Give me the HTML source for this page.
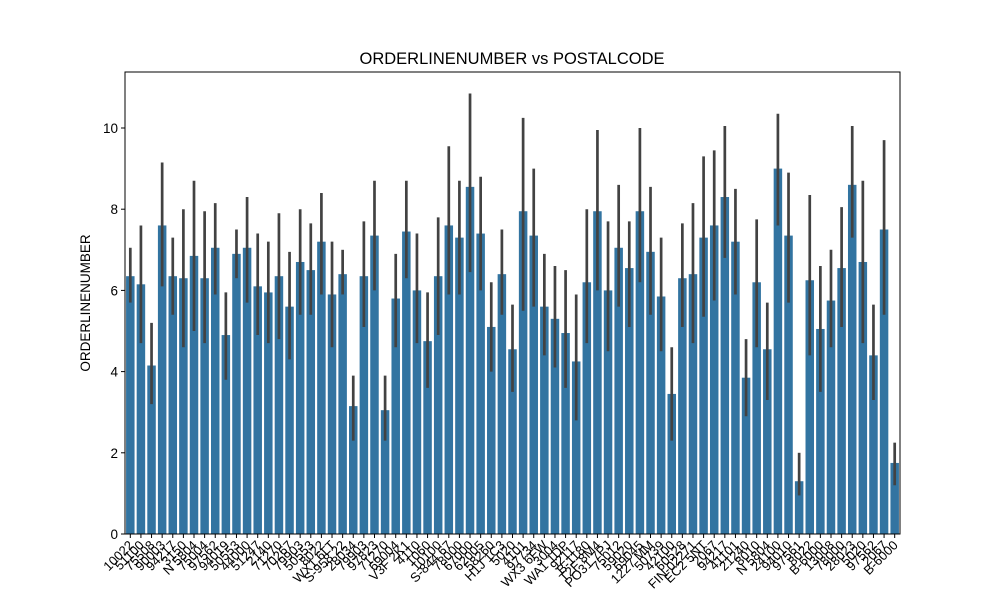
<!DOCTYPE html>
<html><head><meta charset="utf-8"><style>
body{margin:0;background:#fff;}
svg{font-family:"Liberation Sans","DejaVu Sans",sans-serif;}
</style></head><body>
<svg id="chart" width="1000" height="600" xmlns="http://www.w3.org/2000/svg">
<rect width="1000" height="600" fill="#fff"/>
<text x="512" y="64" text-anchor="middle" font-size="16.5">ORDERLINENUMBER vs POSTALCODE</text>
<text transform="translate(90,303) rotate(-90)" text-anchor="middle" font-size="13.5">ORDERLINENUMBER</text>
<g id="bars"></g><g id="errs"></g><g id="yt"></g><g id="xt"></g>
<rect x="125" y="72" width="775" height="462" fill="none" stroke="#000" stroke-width="1"/>
</svg>
<script>
const categories=["10022","51100","75508","90003","94217","3150","N 5804","75004","97562","94019","50553","44000","51247","2140","71270","70267","79903","50553","8022","WX1 6LT","S-958 22","28034","79903","97823","71270","69004","V3F 2K1","4110","1060","10100","S-844 67","78000","67000","62005","58260","H1J 1C3","5020","4101","97734","WX3 6FW","3004","WA1 1DP","92117","B-1180","T2F 8M4","PO31 7PJ","75012","59020","69045","1227 MM","50739","42100","60528","FIN-02271","EC2 5NT","2067","94217","41101","21240","8010","N 5804","24100","94010","97561","8022","B-6000","13008","78000","28023","5020","97562","2067","B-6000"];
const means=[6.35,6.15,4.15,7.6,6.35,6.3,6.85,6.3,7.05,4.9,6.9,7.05,6.1,5.95,6.35,5.6,6.7,6.5,7.2,5.9,6.4,3.15,6.35,7.35,3.05,5.8,7.45,6.0,4.75,6.35,7.6,7.3,8.55,7.4,5.1,6.4,4.55,7.95,7.35,5.6,5.3,4.95,4.25,6.2,7.95,6.0,7.05,6.55,7.95,6.95,5.85,3.45,6.3,6.4,7.3,7.6,8.3,7.2,3.85,6.2,4.55,9.0,7.35,1.3,6.25,5.05,5.75,6.55,8.6,6.7,4.4,7.5,1.75];
const ciLow=[5.7,4.7,3.2,6.1,5.4,4.6,5.0,4.7,5.9,3.8,6.3,5.7,4.9,4.7,4.8,4.3,5.4,5.4,5.9,4.6,5.9,2.3,5.1,6.0,2.3,4.6,6.3,4.7,3.6,4.9,5.9,5.9,6.45,6.0,4.0,5.4,3.5,5.5,5.6,4.4,4.1,3.6,2.8,4.7,6.0,4.5,5.6,5.1,6.2,5.4,4.5,2.3,5.1,4.7,5.35,5.75,6.8,5.9,2.9,4.6,3.3,7.6,5.7,0.95,4.4,3.5,4.6,5.1,7.3,4.7,3.3,5.4,1.2];
const ciHigh=[7.05,7.6,5.2,9.15,7.3,8.0,8.7,7.95,8.15,5.95,7.5,8.3,7.4,7.2,7.9,6.95,8.0,7.65,8.4,7.2,7.0,3.9,7.7,8.7,3.9,6.9,8.7,7.4,5.95,7.8,9.55,8.7,10.85,8.8,6.2,7.5,5.65,10.25,9.0,6.9,6.6,6.5,5.9,8.0,9.95,7.7,8.6,7.7,10.0,8.55,7.3,4.6,7.65,8.15,9.3,9.45,10.05,8.5,4.8,7.75,5.7,10.35,8.9,2.0,8.35,6.6,7.0,8.05,10.05,8.7,5.65,9.7,2.25];
const yTicks=[0,2,4,6,8,10];
const X0=125,W=775,Y0=534,PPU=40.6;
const ns="http://www.w3.org/2000/svg";
const step=W/categories.length;
const xs=i=>X0+step*(i+0.5);
const ys=v=>Y0-v*PPU;
function mk(t,a){const e=document.createElementNS(ns,t);for(const k in a)e.setAttribute(k,a[k]);return e;}
const gb=document.getElementById('bars'),ge=document.getElementById('errs'),gy=document.getElementById('yt'),gx=document.getElementById('xt');
categories.forEach((c,i)=>{
 const b=mk('rect',{x:xs(i)-step*0.4,y:ys(means[i]),width:step*0.8,height:Y0-ys(means[i]),fill:'#3274a1'});
 
 
 gb.appendChild(b);
 const l=mk('line',{x1:xs(i),x2:xs(i),y1:ys(ciLow[i]),y2:ys(ciHigh[i]),stroke:'#424242','stroke-width':2.7});
 
 
 ge.appendChild(l);
 gx.appendChild(mk('line',{x1:xs(i),x2:xs(i),y1:Y0,y2:Y0+4,stroke:'#000'}));
 const t=mk('text',{transform:`translate(${xs(i)+4},${Y0+12}) rotate(-45)`,'text-anchor':'end','font-size':13});
 t.textContent=c;
 
 
 gx.appendChild(t);
});
yTicks.forEach(v=>{
 gy.appendChild(mk('line',{x1:X0-4,x2:X0,y1:ys(v),y2:ys(v),stroke:'#000'}));
 const t=mk('text',{x:X0-7,y:ys(v)+5,'text-anchor':'end','font-size':13.5});
 t.textContent=v;
 
 
 gy.appendChild(t);
});
</script>
</body></html>
